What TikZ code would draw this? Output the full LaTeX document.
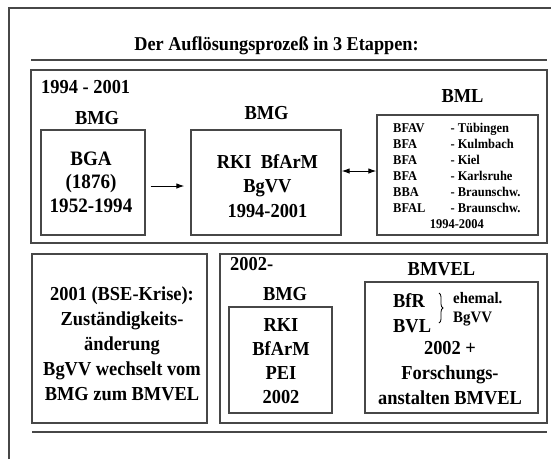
\documentclass[tikz,border=0pt]{standalone}
\usepackage{fontspec}
\setmainfont[FakeStretch=0.93]{Liberation Serif}
\usetikzlibrary{arrows.meta,positioning,decorations.pathreplacing}
\tikzset{
  linie/.style={draw=black!72,line width=1.6pt},
  kasten/.style={draw=black!72,line width=1.3pt,inner sep=0pt},
  gross/.style={inner sep=0pt,align=center,font=\bfseries\fontsize{19.8}{24.5}\selectfont},
  klein/.style={inner sep=0pt,font=\bfseries\fontsize{13.4}{16}\selectfont},
  pfeil/.style={-{Latex[length=8pt,width=5.5pt]},line width=1pt}
}
\begin{document}
\begin{tikzpicture}[x=1pt,y=-1pt]
\useasboundingbox (0,0) rectangle (551,459);
% Rahmen und Titel
\draw[linie] (9,459) -- (9,8) -- (551,8);
\node[gross,anchor=base,font=\bfseries\fontsize{19.6}{23}\selectfont] (titel) at (276.5,50.5) {Der Auflösungsprozeß in 3 Etappen:};
\draw[linie] (31,60) -- (547,60);
\draw[linie] (32,432) -- (547,432);
% Etappe 1
\node[kasten,minimum width=516pt,minimum height=173pt] (etappe1) at (289,156.5) {};
\node[gross,anchor=base west] (jahre1) at (41,93) {1994 - 2001};
\node[gross,anchor=base] (bmg1) at (97,124) {BMG};
\node[gross,anchor=base] (bmg2) at (266.5,119) {BMG};
\node[gross,anchor=base] (bml) at (462.5,102) {BML};
\node[kasten,minimum width=104pt,minimum height=105pt] (bga) at (93,182.5) {};
\node[gross,font=\bfseries\fontsize{20.5}{23.5}\selectfont] (bgatext) at (91,182) {BGA\\(1876)\\1952-1994};
\node[kasten,minimum width=150pt,minimum height=105pt] (mitte) at (266,182.5) {};
\node[gross] (mittetext) at (267.5,186) {RKI\ \ BfArM\\BgVV\\1994-2001};
\node[kasten,minimum width=161pt,minimum height=120pt] (bmlbox) at (457.5,175) {};
\node[klein,anchor=west] (bmltext) at (393,176.8) {\begin{tabular}{@{}l@{\hspace{25pt}}l@{}}
BFAV & - Tübingen\\
BFA & - Kulmbach\\
BFA & - Kiel\\
BFA & - Karlsruhe\\
BBA & - Braunschw.\\
BFAL & - Braunschw.\\
\multicolumn{2}{c}{1994-2004}
\end{tabular}};
\draw[pfeil,shorten <=5pt,shorten >=6pt] ([yshift=-3.5pt]bga.east) -- ([yshift=-3.5pt]mitte.west);
\draw[pfeil,{Latex[length=8pt,width=5.5pt]}-{Latex[length=8pt,width=5.5pt]}] ([yshift=4pt]mitte.east |- bmlbox.west) -- ([yshift=4pt]bmlbox.west);
% Etappe 2
\node[kasten,minimum width=175pt,minimum height=169pt] (krise) at (119.5,338.5) {};
\node[gross,font=\bfseries\fontsize{19.8}{25}\selectfont] (krisetext) at (122,343.3) {2001 (BSE-Krise):\\Zuständigkeits-\\änderung\\BgVV wechselt vom\\BMG zum BMVEL};
% Etappe 3
\node[kasten,minimum width=327pt,minimum height=169pt] (etappe3) at (383.5,338.5) {};
\node[gross,anchor=base west] (jahre3) at (230,270) {2002-};
\node[gross,anchor=base] (bmg3) at (285,300) {BMG};
\node[kasten,minimum width=103pt,minimum height=106pt] (bmgbox) at (280.5,360) {};
\node[gross,font=\bfseries\fontsize{19.8}{24}\selectfont] (bmgtext) at (281,361.5) {RKI\\BfArM\\PEI\\2002};
\node[gross,anchor=base] (bmvel) at (441.5,275) {BMVEL};
\node[kasten,minimum width=173pt,minimum height=131pt] (bmvelbox) at (451.5,347.5) {};
\node[gross,anchor=base west] (bfr) at (393,307) {BfR};
\node[gross,anchor=base west] (bvl) at (393,332) {BVL};
\draw[line width=0.8pt,decorate,decoration={brace,amplitude=4pt}] (439,293) -- (439,323);
\node[klein,anchor=base west,font=\bfseries\fontsize{16}{18}\selectfont] (ehemal) at (453,303) {ehemal.};
\node[klein,anchor=base west,font=\bfseries\fontsize{16}{18}\selectfont] (bgvv) at (453,322) {BgVV};
\node[gross,font=\bfseries\fontsize{19.8}{25}\selectfont] (anstalten) at (450,373) {2002 +\\Forschungs-\\anstalten BMVEL};
\end{tikzpicture}
\end{document}
